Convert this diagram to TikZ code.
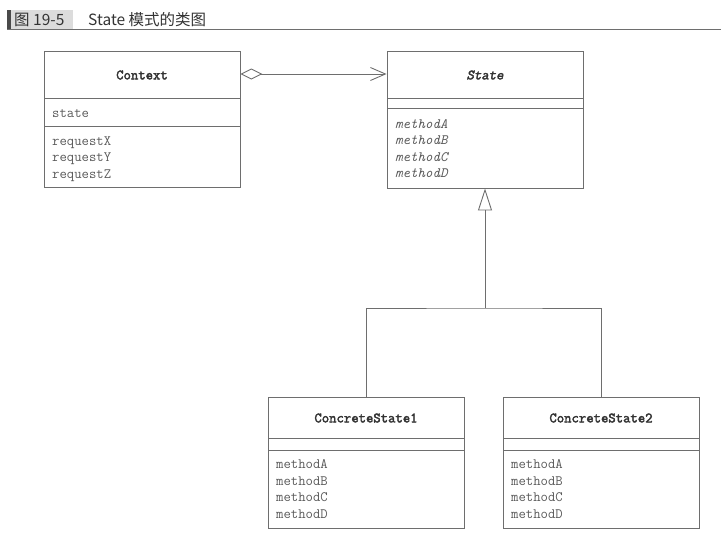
\documentclass[tikz,border=0pt]{standalone}
\usepackage{fontspec}
\setmonofont{Latin Modern Mono}[AutoFakeBold=2.6]
\newfontfamily\abstractfont{Latin Modern Mono}[FakeBold=2.6, FakeSlant=0.22]
\newfontfamily\cjk{Noto Sans CJK SC}
\usetikzlibrary{arrows.meta}
\definecolor{inkline}{HTML}{6E6E6E}
\definecolor{inktext}{HTML}{5A5A5A}
\definecolor{inkname}{HTML}{333333}
\definecolor{captionbg}{HTML}{DCDCDC}
\definecolor{captionbar}{HTML}{4A4A4A}
\tikzset{
  classbox/.style={draw=inkline, line width=0.9pt, rectangle, inner sep=0pt},
  classname/.style={font=\ttfamily\bfseries\fontsize{14.3}{16}\selectfont, text=inkname},
  member/.style={font=\ttfamily\fontsize{14.3}{16.4}\selectfont, text=inktext,
    anchor=west, align=left, inner sep=0pt},
  divider/.style={draw=inkline, line width=0.9pt},
  conn/.style={draw=inkline, line width=0.9pt},
  aggr/.style={conn, {Diamond[open, length=22pt, width=11pt]}-{Straight Barb[length=15pt, width=13pt]}},
  inherit/.style={conn, -{Triangle[open, length=22pt, width=14pt]}},
}
\begin{document}
\begin{tikzpicture}[x=1pt, y=-1pt]
\useasboundingbox (0,0) rectangle (721,558);

% caption
\fill[captionbar] (7,10) rectangle (11,29);
\fill[captionbg] (11,10) rectangle (73,29);
\node[anchor=west, inner sep=0pt, font=\cjk\fontsize{15.5}{17}\selectfont, text=inkname] (fignum) at (14,19.5) {图 19-5};
\node[anchor=west, inner sep=0pt, font=\cjk\fontsize{15.5}{17}\selectfont, text=inkname] (figtitle) at (88,19.5) {State 模式的类图};
\draw[inkline, line width=0.8pt] (7,29.5) -- (721,29.5);

% Context
\node[classbox, minimum width=196pt, minimum height=136pt] (ctx) at (142,119) {};
\node[classname] (ctxname) at (142,75) {Context};
\draw[divider] (44,98) -- (240,98);
\draw[divider] (44,126) -- (240,126);
\node[member] (ctxattr) at (52,113.5) {state};
\node[member] (ctxops) at (52,159) {requestX\\requestY\\requestZ};

% State (abstract)
\node[classbox, minimum width=196pt, minimum height=137pt] (st) at (485,119.5) {};
\node[classname, font=\abstractfont\fontsize{14.3}{16}\selectfont] (stname) at (485,75) {State};
\draw[divider] (387,98) -- (583,98);
\draw[divider] (387,108) -- (583,108);
\node[member, font=\ttfamily\itshape\fontsize{14.3}{16.4}\selectfont] (stops) at (395,148.5) {methodA\\methodB\\methodC\\methodD};

% ConcreteState1
\node[classbox, minimum width=196pt, minimum height=131pt] (cs1) at (366,462.5) {};
\node[classname] (cs1name) at (366,418) {ConcreteState1};
\draw[divider] (268,438) -- (464,438);
\draw[divider] (268,450) -- (464,450);
\node[member] (cs1ops) at (276,489) {methodA\\methodB\\methodC\\methodD};

% ConcreteState2
\node[classbox, minimum width=196pt, minimum height=131pt] (cs2) at (601,462.5) {};
\node[classname] (cs2name) at (601,418) {ConcreteState2};
\draw[divider] (503,438) -- (699,438);
\draw[divider] (503,450) -- (699,450);
\node[member] (cs2ops) at (511,489) {methodA\\methodB\\methodC\\methodD};

% aggregation Context -> State
\draw[aggr] (ctx.east |- 0,74) -- (st.west |- 0,74);

% generalization
\coordinate (join) at (st.south |- 0,308);
\draw[conn] (cs1.north) |- (join) -| (cs2.north);
\draw[inherit] (join) -- (st.south);
\end{tikzpicture}
\end{document}
